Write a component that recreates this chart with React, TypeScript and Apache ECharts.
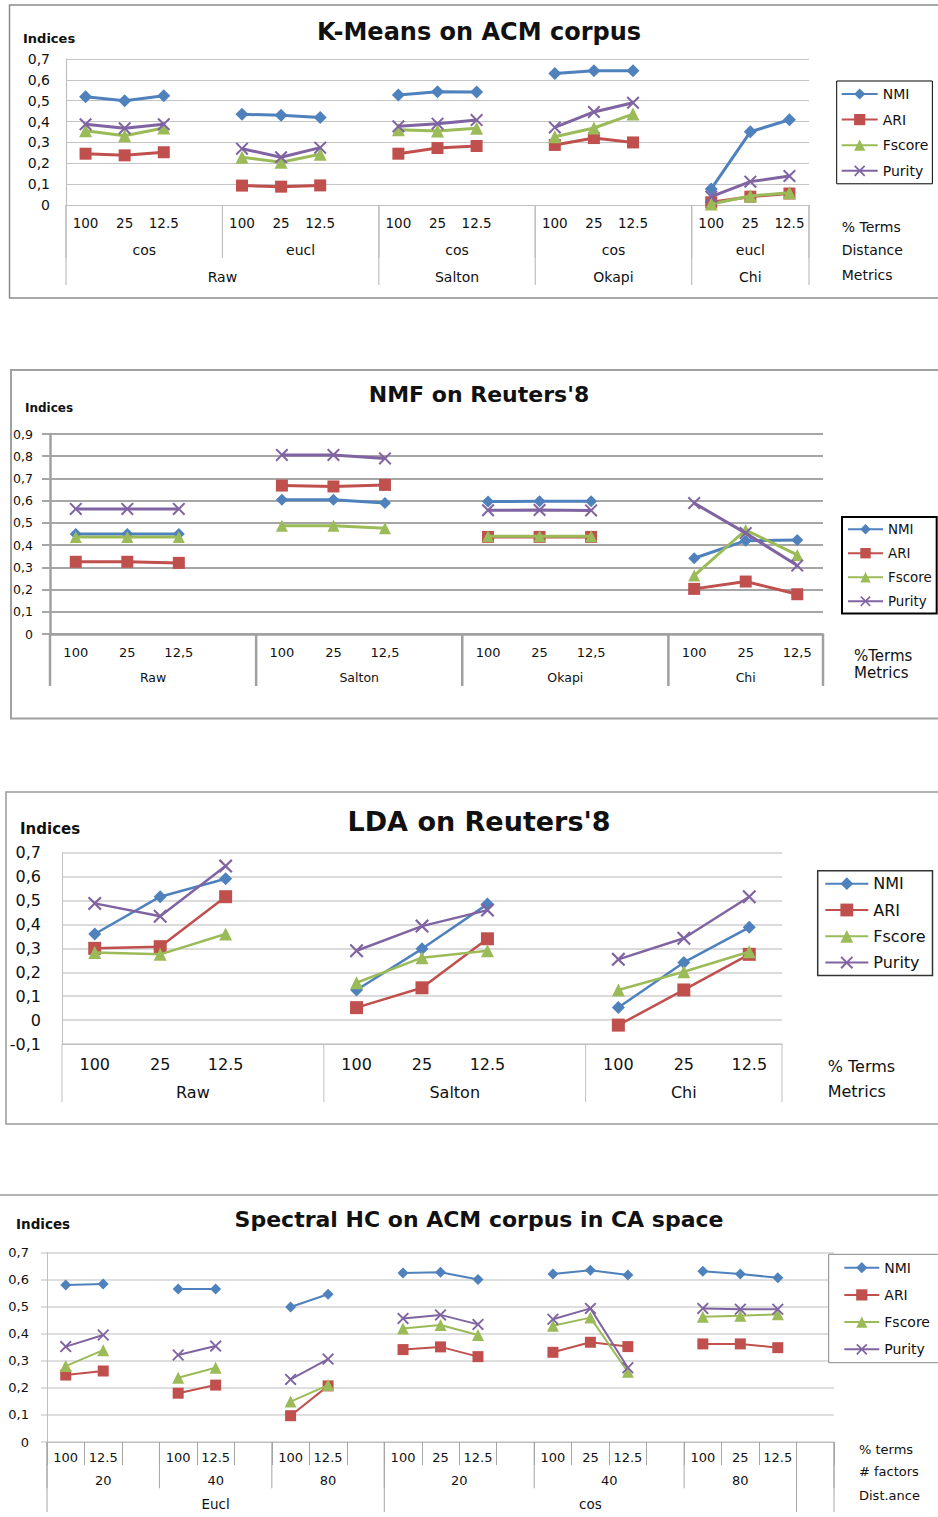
import React, { useEffect, useRef } from 'react';
import * as echarts from 'echarts';

const FONT = '"DejaVu Sans", Verdana, sans-serif';
const METRICS = ['NMI', 'ARI', 'Fscore', 'Purity'];
const COLORS = ['#4F81BD', '#C0504D', '#9BBB59', '#8064A2'];
const CROSS = 'path://M0,1.1L1.1,0L5,3.9L8.9,0L10,1.1L6.1,5L10,8.9L8.9,10L5,6.1L1.1,10L0,8.9L3.9,5Z';
const SYMBOLS = ['diamond', 'rect', 'triangle', CROSS];

// ---------- K-Means on ACM corpus ----------
const kmTerms = ['100', '25', '12.5', '', '100', '25', '12.5', '', '100', '25', '12.5', '', '100', '25', '12.5', '', '100', '25', '12.5'];
const kmDistance: [string, number][] = [['cos', 4], ['eucl', 4], ['cos', 4], ['cos', 4], ['eucl', 3]];
const kmWeighting: [string, number][] = [['Raw', 8], ['Salton', 4], ['Okapi', 4], ['Chi', 3]];
const kmNMI = [0.519, 0.5, 0.524, null, 0.435, 0.43, 0.42, null, 0.527, 0.543, 0.542, null, 0.63, 0.644, 0.644, null, 0.077, 0.351, 0.409];
const kmARI = [0.246, 0.238, 0.253, null, 0.093, 0.088, 0.094, null, 0.246, 0.273, 0.283, null, 0.288, 0.321, 0.3, null, 0.013, 0.04, 0.055];
const kmFscore = [0.356, 0.332, 0.369, null, 0.229, 0.205, 0.243, null, 0.361, 0.355, 0.368, null, 0.327, 0.369, 0.436, null, 0.005, 0.043, 0.059];
const kmPurity = [0.387, 0.368, 0.387, null, 0.27, 0.229, 0.275, null, 0.377, 0.39, 0.407, null, 0.372, 0.446, 0.49, null, 0.04, 0.112, 0.139];

// ---------- NMF on Reuters'8 ----------
const nmfTerms = ['100', '25', '12,5', '', '100', '25', '12,5', '', '100', '25', '12,5', '', '100', '25', '12,5'];
const nmfWeighting: [string, number][] = [['Raw', 4], ['Salton', 4], ['Okapi', 4], ['Chi', 3]];
const nmfNMI = [0.45, 0.45, 0.45, null, 0.604, 0.604, 0.59, null, 0.596, 0.597, 0.597, null, 0.341, 0.42, 0.423];
const nmfARI = [0.325, 0.325, 0.32, null, 0.668, 0.664, 0.671, null, 0.437, 0.437, 0.437, null, 0.203, 0.236, 0.179];
const nmfFscore = [0.436, 0.436, 0.436, null, 0.487, 0.487, 0.476, null, 0.44, 0.44, 0.44, null, 0.263, 0.468, 0.356];
const nmfPurity = [0.563, 0.563, 0.563, null, 0.806, 0.806, 0.79, null, 0.557, 0.558, 0.556, null, 0.589, 0.454, 0.308];

// ---------- LDA on Reuters'8 ----------
const ldaTerms = ['100', '25', '12.5', '', '100', '25', '12.5', '', '100', '25', '12.5'];
const ldaWeighting: [string, number][] = [['Raw', 4], ['Salton', 4], ['Chi', 3]];
const ldaNMI = [0.36, 0.516, 0.591, null, 0.126, 0.298, 0.485, null, 0.053, 0.241, 0.388];
const ldaARI = [0.3, 0.307, 0.516, null, 0.052, 0.135, 0.34, null, -0.021, 0.126, 0.275];
const ldaFscore = [0.283, 0.275, 0.36, null, 0.156, 0.261, 0.29, null, 0.126, 0.202, 0.286];
const ldaPurity = [0.488, 0.434, 0.644, null, 0.29, 0.393, 0.46, null, 0.254, 0.342, 0.516];

// ---------- Spectral HC on ACM corpus in CA space ----------
const specTerms = ['100', '12.5', '', '100', '12.5', '', '100', '12.5', '', '100', '25', '12.5', '', '100', '25', '12.5', '', '100', '25', '12.5', ''];
const specFactors: [string, number][] = [['20', 3], ['40', 3], ['80', 3], ['20', 4], ['40', 4], ['80', 3], ['', 1]];
const specDistance: [string, number][] = [['Eucl', 9], ['cos', 11], ['', 1]];
const specNMI = [0.579, 0.583, null, 0.565, 0.565, null, 0.498, 0.545, null, 0.624, 0.626, 0.6, null, 0.62, 0.634, 0.616, null, 0.63, 0.62, 0.606, null];
const specARI = [0.247, 0.262, null, 0.18, 0.21, null, 0.097, 0.207, null, 0.341, 0.351, 0.315, null, 0.331, 0.368, 0.352, null, 0.362, 0.362, 0.348, null];
const specFscore = [0.28, 0.339, null, 0.237, 0.274, null, 0.149, 0.21, null, 0.419, 0.432, 0.395, null, 0.429, 0.459, 0.259, null, 0.462, 0.466, 0.471, null];
const specPurity = [0.352, 0.395, null, 0.321, 0.354, null, 0.231, 0.306, null, 0.456, 0.469, 0.434, null, 0.453, 0.493, 0.274, null, 0.493, 0.49, 0.49, null];

interface LevelDef { groups: [string, number][]; y: number; sepEnd: number; size: number }
interface PanelDef {
  title: string; titleY: number; titleSize: number;
  indicesX: number; indicesY: number; indicesSize: number;
  border: any;
  grid: { left: number; top: number; width: number; height: number };
  yMin: number; yMax: number; yLabelSize: number; yLabelMargin: number; yTick: number;
  gridColor: string; gridWidth: number; axisColor: string; axisWidth: number;
  terms: string[]; termSize: number; termMargin: number; termTick: number;
  levels: LevelDef[]; sepColor: string; sepWidth: number;
  rightX: number; rightLabels: [string, number][]; rightSize: number;
  series: (number | null)[][]; lineWidth: number; symbolSizes: number[];
  legend: any;
}

const panels: PanelDef[] = [
  {
    title: 'K-Means on ACM corpus', titleY: 31.5, titleSize: 24,
    indicesX: 23, indicesY: 38, indicesSize: 13,
    border: { type: 'rect', shape: { x: 9.5, y: 5, width: 940, height: 293 }, style: { fill: 'none', stroke: '#8C8C8C', lineWidth: 1.5 } },
    grid: { left: 66, top: 59, width: 743, height: 146 },
    yMin: 0, yMax: 0.7, yLabelSize: 14, yLabelMargin: 16, yTick: 0,
    gridColor: '#C4C4C4', gridWidth: 1, axisColor: '#BFBFBF', axisWidth: 1.2,
    terms: kmTerms, termSize: 13.5, termMargin: 11, termTick: 0,
    levels: [
      { groups: kmDistance, y: 250, sepEnd: 258, size: 14 },
      { groups: kmWeighting, y: 277, sepEnd: 285, size: 14 },
    ],
    sepColor: '#BFBFBF', sepWidth: 1.2,
    rightX: 841.7, rightLabels: [['% Terms', 227], ['Distance', 250], ['Metrics', 275]], rightSize: 14,
    series: [kmNMI, kmARI, kmFscore, kmPurity], lineWidth: 3, symbolSizes: [13, 12, 13, 13],
    legend: { left: 836.7, top: 81, padding: [6, 4, 6, 4], itemWidth: 36, itemHeight: 14, itemGap: 11.6, fontSize: 14, borderColor: '#000', borderWidth: 1 },
  },
  {
    title: "NMF on Reuters'8", titleY: 394.5, titleSize: 22,
    indicesX: 25, indicesY: 408, indicesSize: 12,
    border: { type: 'rect', shape: { x: 11, y: 370, width: 940, height: 348.5 }, style: { fill: 'none', stroke: '#A0A0A0', lineWidth: 2 } },
    grid: { left: 50, top: 434, width: 773, height: 200 },
    yMin: 0, yMax: 0.9, yLabelSize: 12.5, yLabelMargin: 17, yTick: 8,
    gridColor: '#A6A6A6', gridWidth: 2, axisColor: '#A0A0A0', axisWidth: 2.5,
    terms: nmfTerms, termSize: 13, termMargin: 11.5, termTick: 0,
    levels: [{ groups: nmfWeighting, y: 677, sepEnd: 686, size: 12.5 }],
    sepColor: '#A0A0A0', sepWidth: 2.5,
    rightX: 854, rightLabels: [['%Terms', 656], ['Metrics', 673]], rightSize: 15,
    series: [nmfNMI, nmfARI, nmfFscore, nmfPurity], lineWidth: 3, symbolSizes: [12, 12, 12, 13],
    legend: { left: 842, top: 517, padding: [5.5, 5, 5.5, 5], itemWidth: 35, itemHeight: 13, itemGap: 10.6, fontSize: 13.4, borderColor: '#000', borderWidth: 2 },
  },
  {
    title: "LDA on Reuters'8", titleY: 821, titleSize: 27,
    indicesX: 20, indicesY: 829, indicesSize: 15,
    border: { type: 'rect', shape: { x: 6, y: 792, width: 940, height: 332 }, style: { fill: 'none', stroke: '#999999', lineWidth: 1.5 } },
    grid: { left: 62, top: 852.7, width: 720, height: 191.3 },
    yMin: -0.1, yMax: 0.7, yLabelSize: 16, yLabelMargin: 21, yTick: 0,
    gridColor: '#CFCFCF', gridWidth: 1.5, axisColor: '#BFBFBF', axisWidth: 1,
    terms: ldaTerms, termSize: 16, termMargin: 12, termTick: 0,
    levels: [{ groups: ldaWeighting, y: 1092.7, sepEnd: 1102, size: 16 }],
    sepColor: '#BFBFBF', sepWidth: 1,
    rightX: 827.7, rightLabels: [['% Terms', 1066], ['Metrics', 1091.7]], rightSize: 16,
    series: [ldaNMI, ldaARI, ldaFscore, ldaPurity], lineWidth: 2.5, symbolSizes: [13, 13, 13, 14],
    legend: { left: 817.7, top: 870.7, padding: [5, 7, 5, 6.6], itemWidth: 43, itemHeight: 16, itemGap: 10.3, fontSize: 16, borderColor: '#333', borderWidth: 1.5 },
  },
  {
    title: 'Spectral HC on ACM corpus in CA space', titleY: 1219, titleSize: 22,
    indicesX: 16, indicesY: 1224, indicesSize: 13.5,
    border: { type: 'line', shape: { x1: 0, y1: 1195, x2: 938, y2: 1195 }, style: { stroke: '#999999', lineWidth: 1.5 } },
    grid: { left: 47, top: 1252.3, width: 787, height: 189.7 },
    yMin: 0, yMax: 0.7, yLabelSize: 13, yLabelMargin: 18, yTick: 6,
    gridColor: '#D3D3D3', gridWidth: 1.5, axisColor: '#BFBFBF', axisWidth: 1,
    terms: specTerms, termSize: 13, termMargin: 9.2, termTick: 23,
    levels: [
      { groups: specFactors, y: 1480.7, sepEnd: 1488.3, size: 13 },
      { groups: specDistance, y: 1504.3, sepEnd: 1512, size: 13.5 },
    ],
    sepColor: '#A6A6A6', sepWidth: 1,
    rightX: 859, rightLabels: [['% terms', 1449], ['# factors', 1471], ['Dist.ance', 1495]], rightSize: 13,
    series: [specNMI, specARI, specFscore, specPurity], lineWidth: 2, symbolSizes: [11, 11, 12, 12],
    legend: { left: 828.7, top: 1254.3, padding: [6.4, 16, 6.4, 14.6], itemWidth: 35, itemHeight: 14, itemGap: 13.2, fontSize: 14, borderColor: '#888', borderWidth: 1 },
  },
];

const yFmt = (v: number) => (Math.abs(v) < 1e-9 ? '0' : v.toFixed(1).replace('.', ','));

function text(str: string, x: number, y: number, size: number, align: string, bold = false) {
  return {
    type: 'text', x, y, silent: true,
    style: {
      text: str, fill: '#111', font: `${bold ? 'bold ' : ''}${size}px ${FONT}`,
      align, verticalAlign: 'middle', textAlign: align, textVerticalAlign: 'middle',
    },
  };
}

function buildOption() {
  const grid: any[] = [];
  const xAxis: any[] = [];
  const yAxis: any[] = [];
  const series: any[] = [];
  const legend: any[] = [];
  const graphic: any[] = [];

  panels.forEach((p, pi) => {
    const g = p.grid;
    const n = p.terms.length;
    grid.push({ left: g.left, top: g.top, width: g.width, height: g.height, containLabel: false, outerBoundsMode: 'none' });
    xAxis.push({
      type: 'category', gridIndex: pi, boundaryGap: true,
      data: p.terms.map((_, i) => String(i)),
      axisLine: { show: true, onZero: false, lineStyle: { color: p.axisColor, width: p.axisWidth } },
      axisTick: p.termTick > 0
        ? { show: true, interval: 0, length: p.termTick, lineStyle: { color: p.sepColor, width: p.sepWidth } }
        : { show: false },
      axisLabel: {
        interval: 0, margin: p.termMargin, color: '#111', fontFamily: FONT, fontSize: p.termSize,
        formatter: (_v: string, i: number) => p.terms[i],
      },
      splitLine: { show: false },
    });
    yAxis.push({
      type: 'value', gridIndex: pi, min: p.yMin, max: p.yMax, interval: 0.1,
      axisLine: { show: true, lineStyle: { color: p.axisColor, width: p.axisWidth } },
      axisTick: p.yTick > 0 ? { show: true, length: p.yTick, lineStyle: { color: p.gridColor, width: p.gridWidth } } : { show: false },
      axisLabel: { margin: p.yLabelMargin, color: '#111', fontFamily: FONT, fontSize: p.yLabelSize, formatter: yFmt },
      splitLine: { show: true, lineStyle: { color: p.gridColor, width: p.gridWidth } },
    });
    p.series.forEach((vals, si) => {
      series.push({
        type: 'line', name: METRICS[si], xAxisIndex: pi, yAxisIndex: pi,
        data: vals, connectNulls: false,
        symbol: SYMBOLS[si], symbolSize: p.symbolSizes[si], showAllSymbol: true,
        lineStyle: { color: COLORS[si], width: p.lineWidth },
        itemStyle: { color: COLORS[si] },
        emphasis: { disabled: true },
        z: 3 + si,
      });
    });
    const L = p.legend;
    legend.push({
      orient: 'vertical', left: L.left, top: L.top, padding: L.padding,
      itemWidth: L.itemWidth, itemHeight: L.itemHeight, itemGap: L.itemGap,
      borderColor: L.borderColor, borderWidth: L.borderWidth, backgroundColor: '#fff',
      selectedMode: false, data: METRICS,
      textStyle: { fontFamily: FONT, fontSize: L.fontSize, color: '#111', lineHeight: L.fontSize },
    });

    // decorations
    graphic.push({ ...p.border, silent: true, z: 0 });
    graphic.push(text(p.title, 479, p.titleY, p.titleSize, 'center', true));
    graphic.push(text('Indices', p.indicesX, p.indicesY, p.indicesSize, 'left', true));
    const bottom = g.top + g.height;
    const bx = (k: number) => g.left + (g.width * k) / n;
    p.levels.forEach((lv) => {
      let pos = 0;
      const bounds = [0];
      lv.groups.forEach(([label, span]) => {
        if (label) graphic.push(text(label, bx(pos + span / 2), lv.y, lv.size, 'center'));
        pos += span;
        bounds.push(pos);
      });
      bounds.forEach((k) => {
        graphic.push({
          type: 'line', silent: true, z: 1,
          shape: { x1: bx(k), y1: bottom, x2: bx(k), y2: lv.sepEnd },
          style: { stroke: p.sepColor, lineWidth: p.sepWidth },
        });
      });
    });
    p.rightLabels.forEach(([t, y]) => graphic.push(text(t, p.rightX, y, p.rightSize, 'left')));
  });

  return {
    animation: false,
    backgroundColor: '#ffffff',
    textStyle: { fontFamily: FONT },
    grid, xAxis, yAxis, series, legend, graphic,
  };
}

export default function App() {
  const ref = useRef<HTMLDivElement>(null);
  useEffect(() => {
    if (!ref.current) return;
    const chart = echarts.init(ref.current, null, { renderer: 'svg' });
    chart.setOption(buildOption() as any);
    return () => chart.dispose();
  }, []);
  return (
    <div
      ref={ref}
      style={{ position: 'absolute', left: 0, top: 0, width: 938, height: 1517, background: '#fff' }}
    />
  );
}
